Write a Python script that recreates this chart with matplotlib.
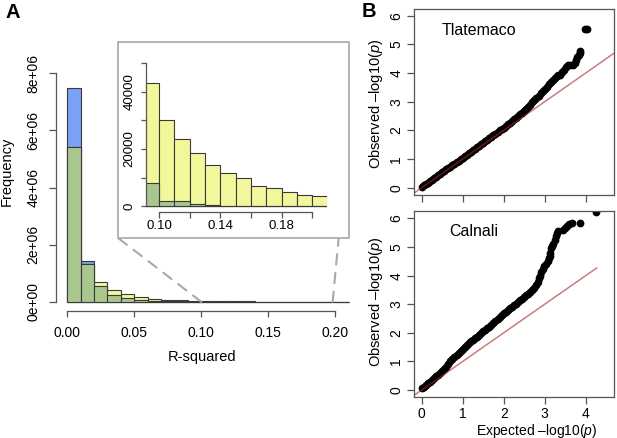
import numpy as np
import matplotlib
matplotlib.use("Agg")
import matplotlib.pyplot as plt
from matplotlib.patches import Rectangle, ConnectionPatch

plt.rcParams['font.family'] = ['Liberation Sans', 'DejaVu Sans']
plt.rcParams['mathtext.fontset'] = 'custom'
plt.rcParams['mathtext.rm'] = 'Liberation Sans'
plt.rcParams['mathtext.it'] = 'Liberation Sans:italic'

# ---------------- data ----------------
r2_bin_edges = [0.00, 0.01, 0.02, 0.03, 0.04, 0.05, 0.06, 0.07, 0.08, 0.09, 0.10,
                0.11, 0.12, 0.13, 0.14, 0.15, 0.16, 0.17, 0.18, 0.19, 0.20, 0.21]
freq_yellow = [5.42e6, 1.34e6, 0.70e6, 0.41e6, 0.26e6, 0.175e6, 0.11e6, 0.075e6, 0.058e6,
               42900, 30000, 23500, 18700, 14300, 11500, 9700, 7200, 6200, 5100, 4000, 3700]
freq_blue = [7.48e6, 1.43e6, 0.56e6, 0.233e6, 0.13e6, 0.08e6, 0.04e6, 0.022e6, 0.013e6,
             8000, 1750, 1750, 700, 450, 150, 100, 50, 30, 20, 10, 10]

main_xticks = [0.00, 0.05, 0.10, 0.15, 0.20]
main_xticklabels = ["0.00", "0.05", "0.10", "0.15", "0.20"]
main_yticks = [0, 2e6, 4e6, 6e6, 8e6]
main_yticklabels = ["0e+00", "2e+06", "4e+06", "6e+06", "8e+06"]
inset_xticks = [0.10, 0.12, 0.14, 0.16, 0.18, 0.20]
inset_xticklabels = ["0.10", "", "0.14", "", "0.18", ""]
inset_yticks = [0, 10000, 20000, 30000, 40000, 50000]
inset_yticklabels = ["0", "", "20000", "", "40000", ""]

tl_expected = [0.00, 0.05, 0.10, 0.15, 0.20, 0.25, 0.30, 0.35, 0.40, 0.45, 0.50, 0.55,
               0.60, 0.65, 0.70, 0.75, 0.80, 0.85, 0.90, 0.95, 1.00, 1.05, 1.10, 1.15,
               1.20, 1.25, 1.30, 1.35, 1.40, 1.45, 1.50, 1.55, 1.60, 1.65, 1.70, 1.75,
               1.80, 1.85, 1.90, 1.95, 2.00, 2.05, 2.10, 2.15, 2.20, 2.25, 2.30, 2.35,
               2.40, 2.45, 2.50, 2.55, 2.60, 2.65, 2.70, 2.75, 2.80, 2.85, 2.90, 2.95,
               3.00, 3.05, 3.10, 3.15, 3.20, 3.25, 3.29, 3.32, 3.37, 3.42, 3.47, 3.52,
               3.57, 3.62, 3.68, 3.73, 3.77, 3.80, 3.83, 3.85, 3.86, 3.98, 4.03]
tl_observed = [0.03, 0.08, 0.13, 0.18, 0.23, 0.28, 0.33, 0.38, 0.44, 0.49, 0.54, 0.59,
               0.64, 0.69, 0.74, 0.79, 0.84, 0.89, 0.94, 0.99, 1.05, 1.10, 1.15, 1.20,
               1.25, 1.30, 1.35, 1.41, 1.46, 1.51, 1.57, 1.62, 1.67, 1.72, 1.78, 1.83,
               1.89, 1.94, 2.00, 2.05, 2.10, 2.16, 2.21, 2.27, 2.33, 2.38, 2.44, 2.50,
               2.56, 2.62, 2.69, 2.76, 2.83, 2.90, 2.98, 3.05, 3.13, 3.21, 3.29, 3.38,
               3.46, 3.53, 3.61, 3.68, 3.74, 3.81, 3.88, 3.92, 3.94, 4.02, 4.12, 4.22,
               4.27, 4.29, 4.29, 4.34, 4.44, 4.55, 4.63, 4.70, 4.76, 5.55, 5.55]

ca_expected = [0.00, 0.05, 0.10, 0.15, 0.20, 0.25, 0.30, 0.35, 0.40, 0.45, 0.50, 0.55,
               0.60, 0.65, 0.70, 0.75, 0.80, 0.85, 0.90, 0.95, 1.00, 1.05, 1.10, 1.15,
               1.20, 1.25, 1.30, 1.35, 1.40, 1.45, 1.50, 1.55, 1.60, 1.65, 1.70, 1.75,
               1.80, 1.85, 1.90, 1.95, 2.00, 2.05, 2.10, 2.15, 2.20, 2.25, 2.30, 2.35,
               2.40, 2.45, 2.50, 2.55, 2.60, 2.65, 2.70, 2.75, 2.80, 2.84, 2.87, 2.89,
               2.92, 2.95, 2.99, 3.03, 3.07, 3.10, 3.12, 3.14, 3.16, 3.18, 3.21, 3.24,
               3.27, 3.29, 3.33, 3.45, 3.50, 3.55, 3.60, 3.66, 3.85, 4.25]
ca_observed = [0.06, 0.12, 0.18, 0.23, 0.29, 0.35, 0.42, 0.48, 0.54, 0.60, 0.66, 0.73,
               0.82, 0.91, 1.00, 1.08, 1.15, 1.22, 1.30, 1.37, 1.44, 1.51, 1.57, 1.64,
               1.70, 1.76, 1.81, 1.87, 1.93, 1.99, 2.05, 2.11, 2.17, 2.22, 2.28, 2.33,
               2.40, 2.47, 2.55, 2.62, 2.68, 2.74, 2.80, 2.86, 2.91, 2.97, 3.02, 3.08,
               3.14, 3.19, 3.25, 3.31, 3.37, 3.43, 3.50, 3.58, 3.68, 3.78, 3.90, 3.98,
               4.12, 4.22, 4.33, 4.42, 4.52, 4.62, 4.70, 4.80, 4.95, 5.03, 5.12, 5.25,
               5.38, 5.48, 5.55, 5.59, 5.65, 5.72, 5.79, 5.85, 5.85, 6.23]
ca_line_end = 4.27

qq_ticks = [0, 1, 2, 3, 4]
qq_yticks = [0, 1, 2, 3, 4, 5, 6]

# ---------------- style ----------------
W, H = 617, 438
C_BLUE = '#7ba3f5'
C_YEL = '#f3f79c'
C_GREEN = '#a9c78c'
C_EDGE = '#3a3a3a'
C_AX = '#555555'
C_RED = '#b22222'

def rect(l, t, r, b):
    return [l / W, 1 - b / H, (r - l) / W, (b - t) / H]

fig = plt.figure(figsize=(W / 100, H / 100), dpi=100)

left_edges = np.array(r2_bin_edges[:-1])
widths = np.diff(r2_bin_edges)
blue = np.array(freq_blue)
yel = np.array(freq_yellow)
green = np.minimum(blue, yel)

def draw_hist(ax):
    ax.bar(left_edges, blue, width=widths, align='edge', color=C_BLUE, edgecolor=C_EDGE, linewidth=0.8)
    ax.bar(left_edges, yel, width=widths, align='edge', color=C_YEL, edgecolor=C_EDGE, linewidth=0.8)
    ax.bar(left_edges, green, width=widths, align='edge', color=C_GREEN, edgecolor=C_EDGE, linewidth=0.8)

# ---- main histogram ----
ax = fig.add_axes(rect(56, 64, 360, 311))
draw_hist(ax)
ax.set_xlim(-0.0084, 0.2184)
ax.set_ylim(-0.32e6, 8.32e6)
for s in ['top', 'right']:
    ax.spines[s].set_visible(False)
for s in ['left', 'bottom']:
    ax.spines[s].set_color(C_AX)
    ax.spines[s].set_linewidth(0.9)
ax.spines['left'].set_bounds(0, 8e6)
ax.spines['bottom'].set_bounds(0, 0.2)
ax.set_xticks(main_xticks)
ax.set_xticklabels(main_xticklabels)
ax.set_yticks(main_yticks)
ax.set_yticklabels(main_yticklabels, rotation=90, va='center')
ax.tick_params(axis='x', length=4, width=0.9, color=C_AX, pad=6.5, labelsize=10)
ax.tick_params(axis='y', length=5, width=0.9, color=C_AX, pad=6, labelsize=10)
ax.patch.set_alpha(0)

# ---- inset ----
fig.add_artist(Rectangle((118 / W, 1 - 238 / H), (349 - 118) / W, (238 - 42) / H,
                         transform=fig.transFigure, facecolor='white',
                         edgecolor='#a8a8a8', linewidth=1.2, zorder=2))
axi = fig.add_axes(rect(146, 57.2, 327, 212))
axi.set_zorder(3)
draw_hist(axi)
axi.set_xlim(0.0915, 0.2096)
axi.set_ylim(-2000, 52000)
for s in ['top', 'right']:
    axi.spines[s].set_visible(False)
for s in ['left', 'bottom']:
    axi.spines[s].set_color(C_AX)
    axi.spines[s].set_linewidth(0.9)
axi.spines['left'].set_bounds(0, 50000)
axi.spines['bottom'].set_bounds(0.10, 0.20)
axi.set_xticks(inset_xticks)
axi.set_xticklabels(inset_xticklabels)
axi.set_yticks(inset_yticks)
axi.set_yticklabels(inset_yticklabels, rotation=90, va='center')
axi.tick_params(axis='x', length=4, width=0.9, color=C_AX, pad=1.5, labelsize=9.5)
axi.tick_params(axis='y', length=3.5, width=0.9, color=C_AX, pad=4, labelsize=9.5)
axi.patch.set_alpha(0)

# dashed connectors
for xd, (px, py) in [(0.10, (117.7, 237.7)), (0.198, (338.7, 237.7))]:
    cp = ConnectionPatch(xyA=(xd, 0), coordsA=ax.transData,
                         xyB=(px / W, 1 - py / H), coordsB=fig.transFigure,
                         color='#a8a8a8', linewidth=1.5, linestyle=(0, (5, 4)))
    fig.add_artist(cp)

fig.text(7.2 / W, 1 - 171.7 / H, 'Frequency', rotation=90, ha='center', va='center', fontsize=10.5)
fig.text(201.7 / W, 1 - 357 / H, 'R-squared', ha='center', va='center', fontsize=10.5)
fig.text(5 / W, 1 - 3 / H, 'A', fontsize=14.5, fontweight='bold', ha='left', va='top')
fig.text(362 / W, 1 - 2 / H, 'B', fontsize=14.5, fontweight='bold', ha='left', va='top')

# ---- QQ plots ----
def qq(axq, ex, ob, ylim, line_end, label, lx, ly, xlabels):
    axq.plot(ex, ob, 'o', color='black', markersize=5.6, markeredgewidth=0, clip_on=True, zorder=2)
    axq.plot([-0.3, line_end], [-0.3, line_end], color=C_RED, alpha=0.6, linewidth=1.1, zorder=3)
    axq.set_xlim(-0.19, 4.70)
    axq.set_ylim(*ylim)
    axq.set_xticks(qq_ticks)
    axq.set_yticks(qq_yticks)
    axq.set_yticklabels([str(v) for v in qq_yticks], rotation=90, va='center')
    if xlabels:
        axq.set_xticklabels([str(v) for v in qq_ticks])
    else:
        axq.set_xticklabels([])
    for s in axq.spines.values():
        s.set_color(C_AX)
        s.set_linewidth(0.9)
    axq.tick_params(axis='x', length=5, width=0.9, color=C_AX, pad=2, labelsize=10)
    axq.tick_params(axis='y', length=5, width=0.9, color=C_AX, pad=2.5, labelsize=10)
    axq.text(lx, ly, label, fontsize=11.5, ha='left', va='center')

axt = fig.add_axes(rect(413.9, 8.8, 614.4, 194.6))
qq(axt, tl_expected, tl_observed, (-0.24, 6.24), 4.9, 'Tlatemaco', 0.49, 5.47, False)
axb = fig.add_axes(rect(413.9, 210.7, 614.4, 396.9))
qq(axb, ca_expected, ca_observed, (-0.24, 6.27), ca_line_end, 'Calnali', 0.67, 5.53, True)

ylab = 'Observed \u2013log10($p$)'
fig.text(375.8 / W, 1 - 104 / H, ylab, rotation=90, ha='center', va='center', fontsize=10.5)
fig.text(375.8 / W, 1 - 302 / H, ylab, rotation=90, ha='center', va='center', fontsize=10.5)
fig.text(537 / W, 1 - 430.5 / H, 'Expected \u2013log10($p$)', ha='center', va='center', fontsize=10)

fig.savefig('out.png', dpi=100)
